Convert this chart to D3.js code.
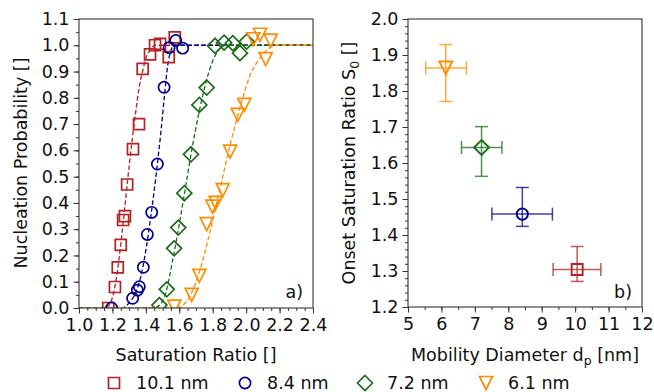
<!DOCTYPE html>
<html>
<head>
<meta charset="utf-8">
<script src="https://cdn.jsdelivr.net/npm/d3@7"></script>
<style>
  body { margin: 0; background: #fff; }
  svg { font-family: "DejaVu Sans", sans-serif; }
</style>
</head>
<body>
<svg id="canvas" width="654" height="392"></svg>
<script>
// series labels / marker types
var sizes = ["10.1 nm", "8.4 nm", "7.2 nm", "6.1 nm"]
var shapes = ["square", "circle", "diamond", "triangle"]
var colors = ["#b22222", "#00008b", "#1a6e1a", "#ff8c00"]

// panel a) measured points
var redS = [1.175, 1.215, 1.232, 1.25, 1.264, 1.275, 1.288, 1.323, 1.359, 1.381, 1.425, 1.455, 1.485, 1.537, 1.573]
var redP = [0.00, 0.08, 0.155, 0.24, 0.335, 0.35, 0.47, 0.605, 0.70, 0.91, 0.965, 1.0, 1.005, 0.955, 1.03]
var blueS = [1.195, 1.321, 1.349, 1.361, 1.385, 1.409, 1.435, 1.469, 1.509, 1.539, 1.579, 1.62]
var blueP = [0.00, 0.037, 0.068, 0.081, 0.155, 0.28, 0.364, 0.548, 0.84, 0.991, 1.018, 0.989]
var greenS = [1.481, 1.525, 1.569, 1.594, 1.63, 1.67, 1.72, 1.764, 1.814, 1.868, 1.92, 1.963, 2.003]
var greenP = [0.011, 0.071, 0.227, 0.306, 0.437, 0.585, 0.773, 0.839, 0.998, 1.01, 1.008, 0.97, 1.014]
var orangeS = [1.57, 1.674, 1.72, 1.764, 1.798, 1.818, 1.86, 1.904, 1.95, 1.989, 2.043, 2.083, 2.117, 2.147]
var orangeP = [0.005, 0.05, 0.122, 0.319, 0.386, 0.40, 0.449, 0.595, 0.735, 0.773, 1.023, 1.04, 0.947, 1.018]

// panel a) fitted curves
var redFitS = [1.0, 1.15, 1.18, 1.20, 1.22, 1.24, 1.26, 1.28, 1.30, 1.32, 1.34, 1.36, 1.38, 1.40, 1.43, 1.46, 2.4]
var redFitP = [0, 0, 0.01, 0.04, 0.10, 0.19, 0.30, 0.42, 0.54, 0.65, 0.75, 0.84, 0.90, 0.95, 0.985, 1.0, 1.0]
var blueFitS = [1.0, 1.26, 1.30, 1.34, 1.37, 1.40, 1.43, 1.46, 1.49, 1.51, 1.53, 1.55, 1.57, 2.4]
var blueFitP = [0, 0, 0.02, 0.06, 0.12, 0.22, 0.35, 0.50, 0.67, 0.80, 0.92, 0.98, 1.0, 1.0]
var greenFitS = [1.0, 1.44, 1.48, 1.52, 1.56, 1.60, 1.64, 1.68, 1.72, 1.76, 1.80, 1.84, 1.88, 2.4]
var greenFitP = [0, 0, 0.01, 0.06, 0.18, 0.32, 0.47, 0.62, 0.75, 0.86, 0.94, 0.985, 1.0, 1.0]
var orangeFitS = [1.0, 1.58, 1.62, 1.66, 1.70, 1.74, 1.78, 1.82, 1.86, 1.90, 1.94, 1.98, 2.02, 2.06, 2.10, 2.14, 2.18, 2.4]
var orangeFitP = [0, 0, 0.01, 0.04, 0.10, 0.18, 0.28, 0.39, 0.50, 0.61, 0.71, 0.80, 0.88, 0.93, 0.965, 0.99, 1.0, 1.0]

// panel b) onset saturation ratio vs mobility diameter
var diam = [10.06, 8.42, 7.2, 6.13]
var diamLo = [9.34, 7.51, 6.6, 5.53]
var diamHi = [10.77, 9.32, 7.81, 6.75]
var onset = [1.304, 1.458, 1.643, 1.864]
var onsetLo = [1.271, 1.424, 1.563, 1.771]
var onsetHi = [1.368, 1.532, 1.701, 1.929]

// tick labels
var ticksA_x = [1.0, 1.2, 1.4, 1.6, 1.8, 2.0, 2.2, 2.4]
var ticksA_y = [0.0, 0.1, 0.2, 0.3, 0.4, 0.5, 0.6, 0.7, 0.8, 0.9, 1.0, 1.1]
var ticksB_x = [5, 6, 7, 8, 9, 10, 11, 12]
var ticksB_y = [1.2, 1.3, 1.4, 1.5, 1.6, 1.7, 1.8, 1.9, 2.0]

var pts = [[redS, redP], [blueS, blueP], [greenS, greenP], [orangeS, orangeP]]
var fits = [[redFitS, redFitP], [blueFitS, blueFitP], [greenFitS, greenFitP], [orangeFitS, orangeFitP]]

var svg = d3.select("#canvas")
var axisColor = "#333"

// marker paths centred on 0,0
function markerPath(shape) {
	if (shape == "square") return "M-5.5,-5.5H5.5V5.5H-5.5Z"
	if (shape == "circle") return d3.arc()({innerRadius: 0, outerRadius: 5.6, startAngle: 0, endAngle: 2 * Math.PI})
	if (shape == "diamond") return "M0,-7.5L7.5,0L0,7.5L-7.5,0Z"
	return "M-6.5,-6.5L6.5,-6.5L0,6.5Z"
}

function drawFrame(g, x, y, xMajor, yMajor, xMinorStep, yMinorStep, xFmt, yFmt) {
	var xr = x.range(), yr = y.range()
	var xd = x.domain(), yd = y.domain()
	var xMinor = d3.range(xd[0], xd[1] + 1e-9, xMinorStep)
	var yMinor = d3.range(yd[0], yd[1] + 1e-9, yMinorStep)

	g.append("g").attr("transform", "translate(0," + yr[0] + ")")
		.call(d3.axisBottom(x).tickValues(xMinor).tickSize(3).tickFormat(""))
	g.append("g").attr("transform", "translate(0," + yr[0] + ")")
		.call(d3.axisBottom(x).tickValues(xMajor).tickSize(5.5).tickPadding(5).tickFormat(xFmt))
	g.append("g").attr("transform", "translate(" + xr[0] + ",0)")
		.call(d3.axisLeft(y).tickValues(yMinor).tickSize(3).tickFormat(""))
	g.append("g").attr("transform", "translate(" + xr[0] + ",0)")
		.call(d3.axisLeft(y).tickValues(yMajor).tickSize(5.5).tickPadding(4).tickFormat(yFmt))

	g.selectAll(".domain").remove()
	g.selectAll(".tick line").attr("stroke", axisColor).attr("stroke-width", 1)
	g.selectAll(".tick text").attr("fill", "#111").style("font-size", "17.5px").style("font-family", "DejaVu Sans")

	g.append("rect")
		.attr("x", xr[0]).attr("y", yr[1])
		.attr("width", xr[1] - xr[0]).attr("height", yr[0] - yr[1])
		.attr("fill", "none").attr("stroke", axisColor).attr("stroke-width", 1.1)
}

// ---------- panel a ----------
var xA = d3.scaleLinear().domain([1.0, 2.4]).range([79, 313])
var yA = d3.scaleLinear().domain([0, 1.1]).range([308, 19])
var gA = svg.append("g")

svg.append("clipPath").attr("id", "clipA").append("rect")
	.attr("x", 79).attr("y", 19).attr("width", 234).attr("height", 289)

var line = d3.line().curve(d3.curveMonotoneX)
	.x(function(d) { return xA(d[0]) })
	.y(function(d) { return yA(d[1]) })

var plotA = gA.append("g").attr("clip-path", "url(#clipA)")
fits.forEach(function(f, i) {
	var data = f[0].map(function(s, k) { return [s, f[1][k]] })
	plotA.append("path")
		.attr("d", line(data))
		.attr("fill", "none")
		.attr("stroke", colors[i])
		.attr("stroke-width", 1.3)
		.attr("stroke-dasharray", "4.5,2.5")
})

pts.forEach(function(p, i) {
	plotA.selectAll(".m" + i)
		.data(p[0].map(function(s, k) { return [s, p[1][k]] }))
		.enter().append("path")
		.attr("class", "m" + i)
		.attr("d", markerPath(shapes[i]))
		.attr("transform", function(d) { return "translate(" + xA(d[0]) + "," + yA(d[1]) + ")" })
		.attr("fill", "none")
		.attr("stroke", colors[i])
		.attr("stroke-width", 1.7)
})

drawFrame(gA, xA, yA, ticksA_x, ticksA_y, 0.05, 0.05, d3.format(".1f"), d3.format(".1f"))

gA.append("text").attr("x", 303).attr("y", 298).attr("text-anchor", "end")
	.style("font-size", "17.5px").attr("fill", "#111").text("a)")
gA.append("text").attr("x", 196).attr("y", 361).attr("text-anchor", "middle")
	.style("font-size", "17.5px").attr("fill", "#111").text("Saturation Ratio []")
gA.append("text").attr("transform", "translate(27,163) rotate(-90)").attr("text-anchor", "middle")
	.style("font-size", "17.5px").attr("fill", "#111").text("Nucleation Probability []")

// ---------- panel b ----------
var xB = d3.scaleLinear().domain([5, 12]).range([408, 642])
var yB = d3.scaleLinear().domain([1.2, 2.0]).range([307, 19])
var gB = svg.append("g")

var order = [3, 2, 1, 0]
order.forEach(function(i) {
	var eb = gB.append("g").attr("stroke", colors[i]).attr("stroke-width", 1.5).attr("stroke-opacity", 0.75)
	var cx = xB(diam[i]), cy = yB(onset[i])
	eb.append("line").attr("x1", xB(diamLo[i])).attr("x2", xB(diamHi[i])).attr("y1", cy).attr("y2", cy)
	eb.append("line").attr("x1", cx).attr("x2", cx).attr("y1", yB(onsetLo[i])).attr("y2", yB(onsetHi[i]))
	;[diamLo[i], diamHi[i]].forEach(function(v) {
		eb.append("line").attr("x1", xB(v)).attr("x2", xB(v)).attr("y1", cy - 6.5).attr("y2", cy + 6.5)
	})
	;[onsetLo[i], onsetHi[i]].forEach(function(v) {
		eb.append("line").attr("x1", cx - 6.5).attr("x2", cx + 6.5).attr("y1", yB(v)).attr("y2", yB(v))
	})
	gB.append("path")
		.attr("d", markerPath(shapes[i]))
		.attr("transform", "translate(" + cx + "," + cy + ")")
		.attr("fill", "none")
		.attr("stroke", colors[i])
		.attr("stroke-width", 1.9)
})

drawFrame(gB, xB, yB, ticksB_x, ticksB_y, 0.5, 0.02, d3.format("d"), d3.format(".1f"))

gB.append("text").attr("x", 632).attr("y", 298).attr("text-anchor", "end")
	.style("font-size", "17.5px").attr("fill", "#111").text("b)")

var xl = gB.append("text").attr("x", 525).attr("y", 361).attr("text-anchor", "middle")
	.style("font-size", "17.5px").attr("fill", "#111")
xl.append("tspan").text("Mobility Diameter d")
xl.append("tspan").attr("dy", 4).style("font-size", "12.5px").text("p")
xl.append("tspan").attr("dy", -4).text(" [nm]")

var yl = gB.append("text").attr("transform", "translate(355,163) rotate(-90)").attr("text-anchor", "middle")
	.style("font-size", "17.5px").attr("fill", "#111")
yl.append("tspan").text("Onset Saturation Ratio S")
yl.append("tspan").attr("dy", 4).style("font-size", "12.5px").text("0")
yl.append("tspan").attr("dy", -4).text(" []")

// ---------- legend ----------
var legX = [114, 245, 365, 486]
var leg = svg.append("g")
sizes.forEach(function(s, i) {
	leg.append("path")
		.attr("d", markerPath(shapes[i]))
		.attr("transform", "translate(" + legX[i] + ",383)")
		.attr("fill", "none")
		.attr("stroke", colors[i])
		.attr("stroke-width", 1.7)
	leg.append("text")
		.attr("x", legX[i] + 22).attr("y", 389)
		.style("font-size", "17.5px").attr("fill", "#111")
		.text(s)
})
</script>
</body>
</html>
